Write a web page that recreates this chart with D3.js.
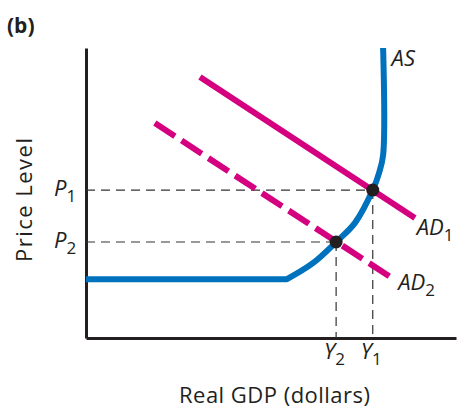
<!DOCTYPE html>
<html>
<head>
<meta charset="utf-8">
<script src="https://cdn.jsdelivr.net/npm/d3@7"></script>
<style>
  html, body { margin: 0; padding: 0; background: #fff; }
  svg { display: block; }
  text { font-family: "Open Sans", "Lato", sans-serif; fill: #231f20; }
</style>
</head>
<body>
<svg id="chart" width="458" height="411"></svg>
<script>
// Aggregate supply curve (real GDP, price level) in abstract units
const asCurve = [
  [0, 20.3], [54.3, 20.3], [61.4, 25.9], [67.6, 33.1], [72.7, 39.7],
  [77.5, 51.0], [79.2, 56.9], [80.3, 63.1], [80.3, 100]
];
// Aggregate demand lines: endpoints
const ad1 = [[30.8, 90.0], [88.9, 41.4]];
const ad2 = [[18.6, 74.1], [83.5, 20.0]];
// Equilibria
const equilibria = [
  { name: "1", gdp: 77.5, price: 51.0 },
  { name: "2", gdp: 67.6, price: 33.1 }
];
const curveLabels = [
  { main: "AS", sub: "", gdp: 82.6, price: 93.8 },
  { main: "AD", sub: "1", gdp: 89.4, price: 35.4 },
  { main: "AD", sub: "2", gdp: 84.4, price: 16.4 }
];

const svg = d3.select("#chart");
const x = d3.scaleLinear().domain([0, 100]).range([86, 456]);
const y = d3.scaleLinear().domain([0, 100]).range([338, 48]);

const magenta = "#d4007f";
const blue = "#0071bc";
const ink = "#231f20";

// Axes
svg.append("g").attr("transform", `translate(0,${y(0)})`)
  .call(d3.axisBottom(x).tickValues([]).tickSizeOuter(0));
svg.append("g").attr("transform", `translate(${x(0)},0)`)
  .call(d3.axisLeft(y).tickValues([]).tickSizeOuter(0));
svg.selectAll(".domain").attr("stroke", ink).attr("stroke-width", 3);

// Guide dashed lines
const guides = svg.append("g");
equilibria.forEach(e => {
  guides.append("line")
    .attr("x1", x(0)).attr("x2", x(e.gdp))
    .attr("y1", y(e.price)).attr("y2", y(e.price))
    .attr("stroke", "#333").attr("stroke-width", 1.2)
    .attr("stroke-dasharray", "9,6");
  guides.append("line")
    .attr("x1", x(e.gdp)).attr("x2", x(e.gdp))
    .attr("y1", y(e.price)).attr("y2", y(0))
    .attr("stroke", "#333").attr("stroke-width", 1.2)
    .attr("stroke-dasharray", "9,6");
});

const straight = d3.line().x(d => x(d[0])).y(d => y(d[1]));
const smooth = d3.line().x(d => x(d[0])).y(d => y(d[1]))
  .curve(d3.curveCatmullRom.alpha(0.5));

// AD lines
svg.append("path").datum(ad1).attr("d", straight)
  .attr("fill", "none").attr("stroke", magenta).attr("stroke-width", 6);
svg.append("path").datum(ad2).attr("d", straight)
  .attr("fill", "none").attr("stroke", magenta).attr("stroke-width", 6)
  .attr("stroke-dasharray", "24,8");

// AS curve: flat segment then smooth rise
const asPath = straight(asCurve.slice(0, 2)) + smooth(asCurve.slice(1)).replace(/^M[^A-Za-z]*/, "");
svg.append("path").attr("d", asPath)
  .attr("fill", "none").attr("stroke", blue).attr("stroke-width", 6)
  .attr("stroke-linejoin", "round");

// Equilibrium points
svg.selectAll("circle.eq").data(equilibria).join("circle")
  .attr("class", "eq")
  .attr("cx", d => x(d.gdp)).attr("cy", d => y(d.price))
  .attr("r", 6.5).attr("fill", ink);

// Labels with subscripts
function subLabel(g, xp, yp, main, sub) {
  const t = g.append("text").attr("x", xp).attr("y", yp).attr("font-size", 22);
  t.append("tspan").attr("font-style", "italic").text(main);
  if (sub) t.append("tspan").attr("font-size", 17).attr("dy", 6).text(sub);
  return t;
}
const labels = svg.append("g");
equilibria.forEach(e => {
  subLabel(labels, 54, y(e.price) + 6, "P", e.name);
  subLabel(labels, x(e.gdp) - 12, 359, "Y", e.name);
});
curveLabels.forEach(c => {
  subLabel(labels, x(c.gdp), y(c.price), c.main, c.sub);
});

// Axis titles
svg.append("text").attr("x", 179).attr("y", 403)
  .attr("font-size", 22).attr("textLength", 191).attr("lengthAdjust", "spacing")
  .text("Real GDP (dollars)");
svg.append("text")
  .attr("transform", `translate(32,262) rotate(-90)`)
  .attr("font-size", 22).attr("textLength", 124).attr("lengthAdjust", "spacing")
  .text("Price Level");

// Panel label
svg.append("text").attr("x", 7).attr("y", 33)
  .attr("font-size", 21).attr("font-weight", "bold")
  .text("(b)");
</script>
</body>
</html>
